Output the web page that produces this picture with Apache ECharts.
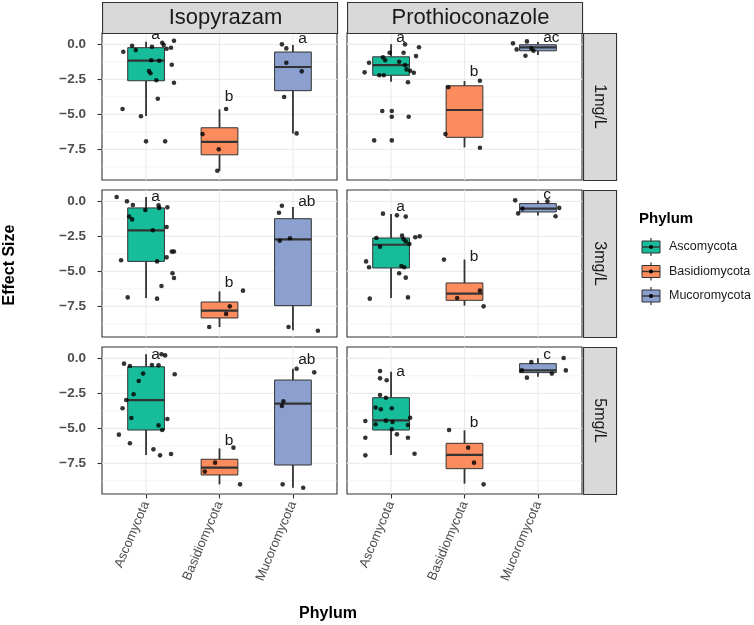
<!DOCTYPE html>
<html>
<head>
<meta charset="utf-8">
<script src="https://cdn.jsdelivr.net/npm/echarts@6/dist/echarts.min.js"></script>
<style>
  html, body { margin: 0; padding: 0; background: #fff; }
  #chart { width: 754px; height: 625px; }
</style>
</head>
<body>
<div id="chart"></div>
<script>
const phyla = ["Ascomycota", "Basidiomycota", "Mucoromycota"];
const fungicides = ["Isopyrazam", "Prothioconazole"];
const doses = ["1mg/L", "3mg/L", "5mg/L"];

const yTicks = [0, -2.5, -5, -7.5];
const yMinor = [-1.25, -3.75, -6.25, -8.75];

// box stats per phylum: [lower whisker, Q1, median, Q3, upper whisker]
const boxIso1 = [[-5.12, -2.6, -1.17, -0.24, 0.19], [-9.03, -7.89, -6.96, -5.96, -4.64], [-6.36, -3.31, -1.62, -0.55, -0.05]];
const boxPro1 = [[-2.67, -2.21, -1.48, -0.89, 0.0], [-7.36, -6.64, -4.69, -2.96, -2.62], [-0.76, -0.46, -0.21, -0.03, 0.16]];
const boxIso3 = [[-6.9, -4.29, -2.07, -0.47, 0.31], [-8.98, -8.33, -7.81, -7.19, -6.43], [-9.21, -7.45, -2.71, -1.24, -0.4]];
const boxPro3 = [[-6.9, -4.76, -3.1, -2.62, -0.9], [-7.45, -7.07, -6.59, -5.83, -4.16], [-1.02, -0.76, -0.52, -0.16, 0.05]];
const boxIso5 = [[-6.9, -5.12, -2.98, -0.6, 0.29], [-9.0, -8.33, -7.81, -7.21, -6.43], [-9.24, -7.62, -3.24, -1.55, -0.74]];
const boxPro5 = [[-6.9, -5.12, -4.43, -2.81, -0.95], [-8.95, -7.88, -6.9, -6.07, -5.14], [-1.31, -1.02, -0.86, -0.38, 0.0]];

// jittered observations: [phylum index, jitter offset, effect size]
const ptsIso1 = [
  [0,-0.31,-0.53],[0,-0.19,-0.1],[0,-0.14,-0.41],[0,0.08,-0.17],[0,0.22,0.11],[0,0.24,-0.05],[0,0.28,-0.31],
  [0,0.34,-0.24],[0,0.38,0.26],[0,0.07,-1.14],[0,0.18,-1.17],[0,0.35,-1.46],[0,0.04,-1.91],[0,0.06,-2.07],
  [0,0.14,-2.57],[0,0.38,-2.74],[0,0.16,-3.89],[0,-0.32,-4.62],[0,-0.07,-5.14],[0,0.0,-6.93],[0,0.26,-6.93],
  [1,0.09,-4.62],[1,-0.23,-6.41],[1,-0.01,-7.5],[1,-0.03,-9.03],
  [2,-0.15,0.0],[2,-0.09,-0.29],[2,-0.09,-1.31],[2,0.12,-1.93],[2,-0.12,-3.76],[2,0.05,-6.36]
];
const ptsPro1 = [
  [0,0.19,0.0],[0,0.38,-0.21],[0,-0.02,-0.6],[0,0.17,-0.6],[0,0.34,-0.84],[0,-0.11,-0.93],[0,-0.08,-1.14],
  [0,0.11,-1.24],[0,-0.3,-1.31],[0,0.19,-1.48],[0,0.21,-1.79],[0,0.26,-1.89],[0,0.31,-2.03],[0,-0.36,-2.0],
  [0,-0.16,-2.21],[0,-0.1,-2.21],[0,0.23,-2.71],[0,-0.12,-4.76],[0,0.01,-4.76],[0,0.01,-5.17],[0,0.24,-5.17],
  [0,-0.23,-6.86],[0,0.01,-6.86],
  [1,0.21,-2.6],[1,-0.22,-3.07],[1,-0.26,-6.41],[1,0.21,-7.39],
  [2,-0.34,0.07],[2,-0.15,0.21],[2,-0.29,-0.36],[2,-0.09,-0.29],[2,-0.06,-0.46],[2,-0.17,-0.81]
];
const ptsIso3 = [
  [0,-0.4,0.31],[0,-0.26,0.0],[0,-0.18,-0.26],[0,-0.01,-0.62],[0,0.17,-0.29],[0,0.18,-0.47],[0,0.29,-0.43],
  [0,-0.23,-1.09],[0,-0.19,-1.29],[0,0.09,-2.07],[0,0.28,-1.83],[0,-0.34,-4.21],[0,0.15,-4.29],[0,0.28,-4.0],
  [0,0.35,-3.59],[0,0.38,-3.59],[0,0.36,-5.14],[0,0.38,-5.48],[0,0.21,-6.05],[0,-0.25,-6.86],[0,0.15,-6.95],
  [1,0.32,-6.38],[1,0.14,-7.5],[1,0.09,-8.04],[1,-0.14,-8.98],
  [2,-0.15,-0.31],[2,-0.19,-0.81],[2,-0.18,-2.81],[2,-0.04,-2.64],[2,-0.06,-8.98],[2,0.34,-9.24]
];
const ptsPro3 = [
  [0,-0.11,-0.88],[0,0.08,-1.0],[0,0.2,-1.09],[0,-0.2,-2.62],[0,0.15,-2.45],[0,0.17,-2.69],[0,0.2,-2.86],
  [0,0.25,-3.05],[0,0.33,-2.57],[0,0.39,-2.5],[0,-0.15,-3.24],[0,-0.34,-4.29],[0,-0.3,-4.71],[0,0.14,-4.62],
  [0,0.18,-4.71],[0,0.11,-5.14],[0,0.2,-5.45],[0,-0.29,-6.95],[0,0.23,-6.86],
  [1,-0.28,-4.16],[1,0.21,-6.38],[1,-0.1,-6.9],[1,0.26,-7.5],
  [2,-0.31,0.07],[2,0.13,0.0],[2,-0.21,-0.52],[2,0.29,-0.47],[2,-0.27,-0.86],[2,0.24,-1.07]
];
const ptsIso5 = [
  [0,0.21,0.29],[0,0.26,0.21],[0,-0.3,-0.38],[0,-0.22,-0.55],[0,0.08,-0.48],[0,0.17,-0.5],[0,0.39,-1.14],
  [0,-0.04,-1.09],[0,-0.1,-1.62],[0,-0.17,-2.57],[0,-0.27,-2.98],[0,-0.32,-3.57],[0,-0.2,-4.26],[0,0.29,-4.33],
  [0,0.17,-4.79],[0,0.22,-5.12],[0,-0.37,-5.45],[0,-0.22,-6.07],[0,0.1,-6.5],[0,0.19,-6.93],[0,0.34,-6.83],
  [1,0.19,-6.38],[1,-0.06,-7.45],[1,-0.2,-8.09],[1,0.28,-9.0],
  [2,0.05,-0.74],[2,0.29,-1.0],[2,-0.13,-3.07],[2,-0.15,-3.4],[2,-0.14,-9.0],[2,0.14,-9.24]
];
const ptsPro5 = [
  [0,-0.15,-0.9],[0,-0.15,-1.43],[0,-0.06,-1.57],[0,-0.15,-2.62],[0,-0.07,-2.81],[0,-0.21,-3.52],[0,-0.14,-3.64],
  [0,0.01,-3.57],[0,0.26,-4.24],[0,-0.35,-4.48],[0,-0.07,-4.45],[0,0.02,-4.55],[0,-0.21,-4.71],[0,0.23,-4.76],
  [0,0.08,-5.43],[0,0.23,-5.67],[0,-0.35,-5.67],[0,0.01,-5.07],[0,-0.35,-6.93],[0,0.32,-6.81],
  [1,-0.21,-5.12],[1,0.05,-6.38],[1,0.13,-7.45],[1,0.26,-9.0],
  [2,-0.09,-0.26],[2,0.35,0.02],[2,0.38,-0.86],[2,-0.22,-0.86],[2,0.19,-1.09],[2,-0.15,-1.38]
];

// significance letters and their heights
const letIso1 = ["a", "b", "a"],  letYIso1 = [0.66, -3.74, 0.38];
const letPro1 = ["a", "b", "ac"], letYPro1 = [0.5, -1.96, 0.5];
const letIso3 = ["a", "b", "ab"], letYIso3 = [0.36, -5.83, -0.04];
const letPro3 = ["a", "b", "c"],  letYPro3 = [-0.36, -3.93, 0.48];
const letIso5 = ["a", "b", "ab"], letYIso5 = [0.29, -5.9, -0.12];
const letPro5 = ["a", "b", "c"],  letYPro5 = [-0.95, -4.6, 0.24];

const colors = ["#17BC9B", "#FC8C5E", "#8BA0CF"];
const FONT = "'Liberation Sans', Arial, sans-serif";
const Y_MIN = -9.69, Y_MAX = 0.81, X_MIN = 0.4, X_MAX = 3.6;

const panels = [
  { row: 0, col: 0, box: boxIso1, pts: ptsIso1, let: letIso1, letY: letYIso1 },
  { row: 0, col: 1, box: boxPro1, pts: ptsPro1, let: letPro1, letY: letYPro1 },
  { row: 1, col: 0, box: boxIso3, pts: ptsIso3, let: letIso3, letY: letYIso3 },
  { row: 1, col: 1, box: boxPro3, pts: ptsPro3, let: letPro3, letY: letYPro3 },
  { row: 2, col: 0, box: boxIso5, pts: ptsIso5, let: letIso5, letY: letYIso5 },
  { row: 2, col: 1, box: boxPro5, pts: ptsPro5, let: letPro5, letY: letYPro5 }
];

const colLeft = [102, 347], rowTop = [33, 190, 347];
const PW = 235, PH = 147;

function minusFmt(v) {
  return (v < 0 ? "\u2212" : "") + Math.abs(v).toFixed(1);
}

function renderGrid(params, api) {
  const kind = api.value(0), v = api.value(1), major = api.value(2);
  let p1, p2;
  if (kind === 0) { p1 = api.coord([X_MIN, v]); p2 = api.coord([X_MAX, v]); }
  else { p1 = api.coord([v, Y_MAX]); p2 = api.coord([v, Y_MIN]); }
  return {
    type: "line",
    shape: { x1: p1[0], y1: p1[1], x2: p2[0], y2: p2[1] },
    style: { stroke: "#EBEBEB", lineWidth: major ? 1.1 : 0.6 }
  };
}

function renderBox(params, api) {
  const x = api.value(0);
  const lo = api.coord([x, api.value(1)]);
  const q1 = api.coord([x, api.value(2)]);
  const med = api.coord([x, api.value(3)]);
  const q3 = api.coord([x, api.value(4)]);
  const hi = api.coord([x, api.value(5)]);
  const half = api.size([0.25, 0])[0];
  const fill = colors[api.value(6)];
  return {
    type: "group",
    children: [
      { type: "line", shape: { x1: hi[0], y1: hi[1], x2: q3[0], y2: q3[1] }, style: { stroke: "#333", lineWidth: 1.8 } },
      { type: "line", shape: { x1: q1[0], y1: q1[1], x2: lo[0], y2: lo[1] }, style: { stroke: "#333", lineWidth: 1.8 } },
      { type: "rect", shape: { x: q3[0] - half, y: q3[1], width: 2 * half, height: q1[1] - q3[1] },
        style: { fill: fill, stroke: "#333", lineWidth: 1 } },
      { type: "line", shape: { x1: med[0] - half, y1: med[1], x2: med[0] + half, y2: med[1] }, style: { stroke: "#333", lineWidth: 2.2 } }
    ]
  };
}

function renderLetter(params, api) {
  const p = api.coord([api.value(0), api.value(1)]);
  return {
    type: "text",
    x: p[0] + 3,
    y: p[1],
    style: {
      text: letterText[params.seriesIndex][params.dataIndex],
      fill: "#1A1A1A", fontSize: 15.5, fontFamily: FONT, align: "left", verticalAlign: "middle"
    }
  };
}

const grids = [], xAxes = [], yAxes = [], series = [];
const letterText = {};

const gridData = [];
yTicks.forEach(v => gridData.push([0, v, 1]));
yMinor.forEach(v => gridData.push([0, v, 0]));
phyla.forEach((p, i) => gridData.push([1, i + 1, 1]));

panels.forEach((pn, i) => {
  grids.push({
    left: colLeft[pn.col], top: rowTop[pn.row], width: PW, height: PH,
    show: true, borderColor: "#333", borderWidth: 1.1, backgroundColor: "#fff"
  });
  const bottomRow = pn.row === 2, leftCol = pn.col === 0;
  xAxes.push({
    gridIndex: i, type: "value", min: X_MIN, max: X_MAX,
    axisLine: { show: false, onZero: false },
    axisTick: { show: bottomRow, customValues: [1, 2, 3], length: 4.5, lineStyle: { color: "#333", width: 1.1 } },
    axisLabel: {
      show: bottomRow, customValues: [1, 2, 3], rotate: 67, margin: 8,
      formatter: v => phyla[Math.round(v) - 1] || "",
      color: "#4D4D4D", fontSize: 13, fontFamily: FONT
    },
    splitLine: { show: false }
  });
  yAxes.push({
    gridIndex: i, type: "value", min: Y_MIN, max: Y_MAX,
    axisLine: { show: false, onZero: false },
    axisTick: { show: leftCol, customValues: yTicks, length: 4.5, lineStyle: { color: "#333", width: 1.1 } },
    axisLabel: {
      show: leftCol, customValues: yTicks, margin: 16, formatter: minusFmt,
      color: "#4D4D4D", fontSize: 13.5, fontWeight: "bold", fontFamily: FONT
    },
    splitLine: { show: false }
  });

  series.push({
    type: "custom", xAxisIndex: i, yAxisIndex: i, z: 1, silent: true,
    renderItem: renderGrid, encode: { x: 1, y: 1 }, data: gridData
  });
  series.push({
    type: "custom", xAxisIndex: i, yAxisIndex: i, z: 2, silent: true,
    renderItem: renderBox, encode: { x: 0, y: [1, 2, 3, 4, 5] },
    data: pn.box.map((b, k) => [k + 1, b[0], b[1], b[2], b[3], b[4], k])
  });
  series.push({
    type: "scatter", xAxisIndex: i, yAxisIndex: i, z: 3, silent: true,
    symbol: "circle", symbolSize: 4.6, itemStyle: { color: "#000" },
    data: pn.pts.map(p => [p[0] + 1 + p[1], p[2]])
  });
  letterText[series.length] = pn.let;
  series.push({
    type: "custom", xAxisIndex: i, yAxisIndex: i, z: 4, silent: true,
    renderItem: renderLetter, encode: { x: 0, y: 1 },
    data: pn.letY.map((y, k) => [k + 1.03, y])
  });
});

// facet strips, axis titles and legend
const graphics = [];
fungicides.forEach((f, c) => {
  graphics.push({ type: "rect", left: colLeft[c], top: 2, shape: { width: PW, height: 31 },
    style: { fill: "#D9D9D9", stroke: "#333", lineWidth: 1.1 }, z: 10 });
  graphics.push({ type: "text", x: colLeft[c] + PW / 2 + 6, y: 18,
    style: { text: f, fill: "#1A1A1A", fontSize: 22, fontFamily: FONT, align: "center", verticalAlign: "middle" }, z: 11 });
});
doses.forEach((d, r) => {
  graphics.push({ type: "rect", left: 583, top: rowTop[r], shape: { width: 33, height: PH },
    style: { fill: "#D9D9D9", stroke: "#333", lineWidth: 1.1 }, z: 10 });
  graphics.push({ type: "text", x: 599.5, y: rowTop[r] + PH / 2, rotation: -Math.PI / 2,
    style: { text: d, fill: "#1A1A1A", fontSize: 16, fontFamily: FONT, align: "center", verticalAlign: "middle" }, z: 11 });
});
graphics.push({ type: "text", x: 10, y: 265, rotation: Math.PI / 2,
  style: { text: "Effect Size", fill: "#000", fontSize: 16, fontWeight: "bold", fontFamily: FONT, align: "center", verticalAlign: "middle" } });
graphics.push({ type: "text", x: 328, y: 614,
  style: { text: "Phylum", fill: "#000", fontSize: 16, fontWeight: "bold", fontFamily: FONT, align: "center", verticalAlign: "middle" } });

graphics.push({ type: "text", x: 639, y: 219,
  style: { text: "Phylum", fill: "#000", fontSize: 15, fontWeight: "bold", fontFamily: FONT, align: "left", verticalAlign: "middle" } });
phyla.forEach((p, k) => {
  const cy = 247 + k * 24.5, cx = 651;
  graphics.push({ type: "line", shape: { x1: cx, y1: cy - 9, x2: cx, y2: cy + 9 }, style: { stroke: "#333", lineWidth: 1.2 } });
  graphics.push({ type: "rect", shape: { x: cx - 9, y: cy - 6, width: 18, height: 12 }, style: { fill: colors[k], stroke: "#333", lineWidth: 1 } });
  graphics.push({ type: "line", shape: { x1: cx - 9, y1: cy, x2: cx + 9, y2: cy }, style: { stroke: "#333", lineWidth: 1.4 } });
  graphics.push({ type: "circle", shape: { cx: cx, cy: cy, r: 2 }, style: { fill: "#000" } });
  graphics.push({ type: "text", x: 669, y: cy,
    style: { text: p, fill: "#1A1A1A", fontSize: 12.5, fontFamily: FONT, align: "left", verticalAlign: "middle" } });
});

const chart = echarts.init(document.getElementById("chart"), null, { renderer: "canvas" });
chart.setOption({
  animation: false,
  backgroundColor: "#fff",
  grid: grids,
  xAxis: xAxes,
  yAxis: yAxes,
  series: series,
  graphic: graphics
});
</script>
</body>
</html>
